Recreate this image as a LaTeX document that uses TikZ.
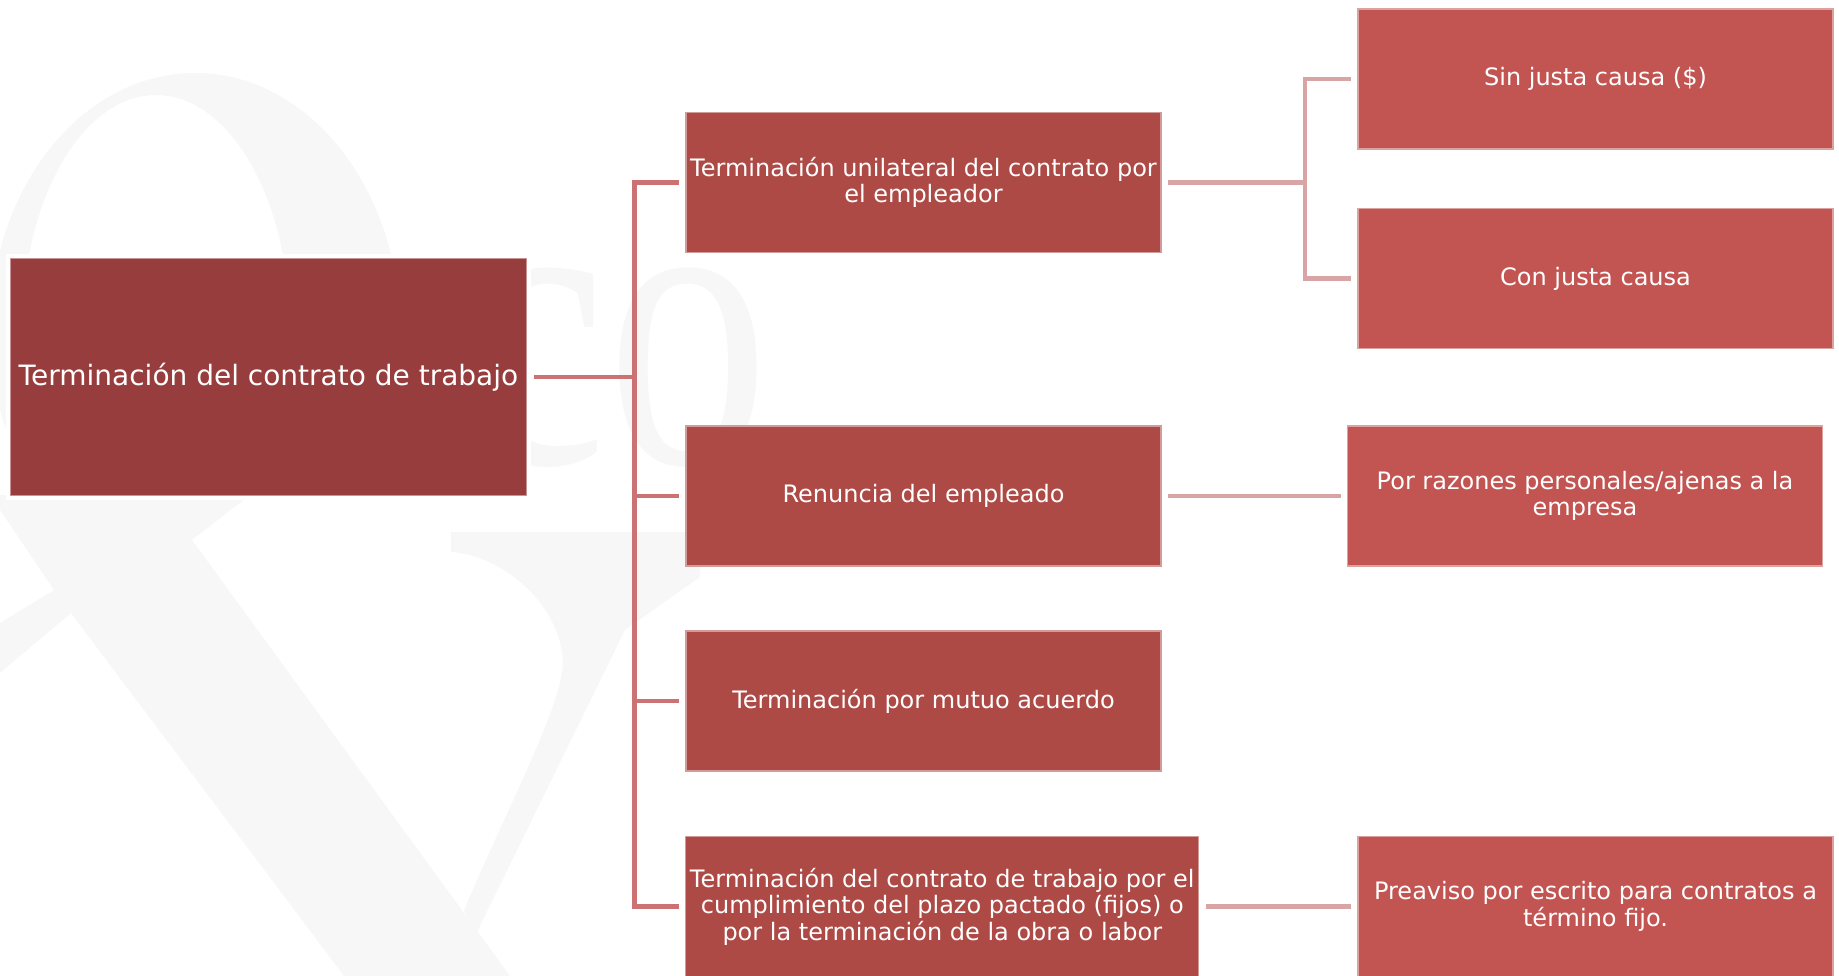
\documentclass[tikz,border=0pt]{standalone}
\usepackage{fontspec}
\setmainfont{DejaVu Sans}
\newfontfamily\wmfont{Liberation Serif}
\usetikzlibrary{positioning,calc}
\definecolor{rootred}{RGB}{152,61,61}
\definecolor{midred}{RGB}{174,74,70}
\definecolor{leafred}{RGB}{194,84,82}
\definecolor{linered}{RGB}{205,114,114}
\definecolor{linepink}{RGB}{217,164,165}
\definecolor{wmgray}{RGB}{247,247,247}

\begin{document}
\begin{tikzpicture}
[x=1pt,y=-1pt,
every node/.style={text=white,align=center,inner sep=2pt,outer sep=7pt,font=\fontsize{24}{26.5}\selectfont},
rootbox/.style={fill=rootred,draw=rootred!55!white,line width=1.2pt,preaction={draw=white,line width=9pt},minimum width=516pt,minimum height=237pt,font=\fontsize{28}{32}\selectfont},
midbox/.style={fill=midred,draw=midred!55!white,line width=1.2pt,minimum width=475pt,minimum height=140pt},
leafbox/.style={fill=leafred,draw=leafred!55!white,line width=1.2pt,minimum width=475pt,minimum height=140pt},
trunk/.style={draw=linered,line width=4.5pt},
twig/.style={draw=linepink,line width=4.5pt}]
\useasboundingbox (0,0) rectangle (1839,976);
% watermark
\begin{scope}
\clip (0,0) rectangle (700,495);
\fill[wmgray,even odd rule] (195,330) ellipse [x radius=205,y radius=257] (156,330) ellipse [x radius=134,y radius=235];
\end{scope}
\fill[wmgray] (0,495) -- (250,495) -- (192,540) -- (510,976) -- (344,976) -- (71,613) -- (0,673) -- (0,623) -- (54,590) -- (0,510) -- cycle;
\fill[wmgray] (451,532) -- (700,532) -- (700,577) -- (625,630) -- (473,940) -- (464,910) .. controls (520,780) and (570,690) .. (562,653) .. controls (555,600) and (500,555) .. (451,552) -- cycle;
\node[text=wmgray,anchor=base west,inner sep=0pt,xscale=0.78,font=\wmfont\fontsize{415}{415}\selectfont] (co) at (458,463) {co};
\node[rootbox] (root) at (268.5,377) {Terminación del contrato de trabajo};
\node[midbox] (uni) at (923.5,182.5) {Terminación unilateral del contrato por\\el empleador};
\node[midbox] (ren) at (923.5,496) {Renuncia del empleado};
\node[midbox] (mut) at (923.5,701) {Terminación por mutuo acuerdo};
\node[midbox,minimum width=513pt] (pla) at (942.3,906.6) {Terminación del contrato de trabajo por el\\cumplimiento del plazo pactado (fijos) o\\por la terminación de la obra o labor};
\node[leafbox] (sin) at (1595.5,79) {Sin justa causa (\$)};
\node[leafbox] (con) at (1595.5,278.5) {Con justa causa};
\node[leafbox] (raz) at (1585,496) {Por razones personales/ajenas a la\\empresa};
\node[leafbox] (pre) at (1595.5,906.6) {Preaviso por escrito para contratos a\\término fijo.};
\coordinate (t) at (634.5,377);
\coordinate (u) at (1305,182.5);
\draw[trunk] (root.east) -- (t);
\draw[trunk] (uni.west) -| (t) |- (pla.west);
\foreach \n in {ren,mut} \draw[trunk] (t |- \n.west) -- (\n.west);
\draw[twig] (uni.east) -- (u);
\draw[twig] (sin.west) -| (u) |- (con.west);
\draw[twig] (ren.east) -- (raz.west);
\draw[twig] (pla.east) -- (pre.west);
\end{tikzpicture}
\end{document}
